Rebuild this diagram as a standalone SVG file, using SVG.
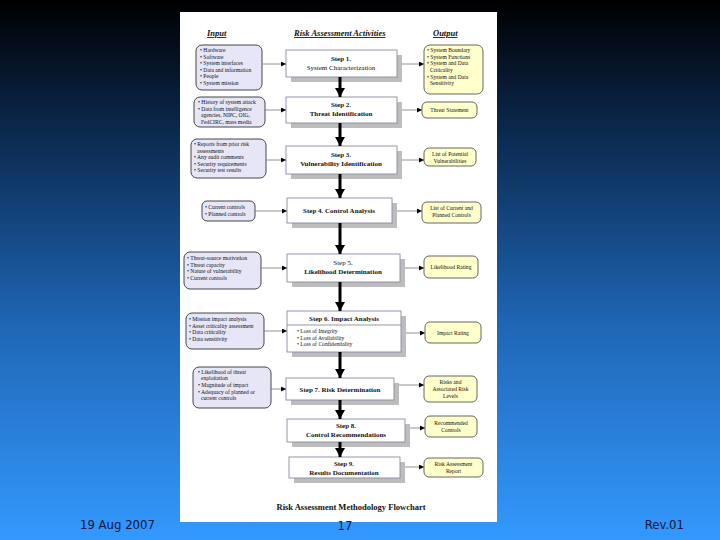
<svg xmlns="http://www.w3.org/2000/svg" width="720" height="540" viewBox="0 0 720 540">
<defs>
<linearGradient id="bg" x1="0" y1="0" x2="0" y2="1">
<stop offset="0" stop-color="#000000"/>
<stop offset="0.25" stop-color="#0b2a50"/>
<stop offset="0.6" stop-color="#1f66b5"/>
<stop offset="1" stop-color="#3399ff"/>
</linearGradient>
<marker id="big" markerUnits="userSpaceOnUse" markerWidth="10" markerHeight="10" refX="9" refY="5" orient="auto">
<path d="M0,0 L9,5 L0,10 z" fill="#000"/>
</marker>
<marker id="small" markerUnits="userSpaceOnUse" markerWidth="6" markerHeight="6" refX="5" refY="2.5" orient="auto">
<path d="M0,0 L5,2.5 L0,5 z" fill="#000"/>
</marker>
</defs>
<style>
.in{fill:#e6e6f7;stroke:#333;stroke-width:0.9}
.out{fill:#ffffcc;stroke:#555;stroke-width:0.9}
.st{fill:#fff;stroke:#8a8aa0;stroke-width:0.9}
.sh{fill:#bdbdbd}
.t{font-family:"Liberation Serif",serif;font-size:5.6px;fill:#111}
.s{font-family:"Liberation Serif",serif;font-size:7px;fill:#111;text-anchor:middle}
.b{font-weight:bold}
.o{font-family:"Liberation Serif",serif;font-size:5.6px;fill:#111;text-anchor:middle}
.h{font-family:"Liberation Serif",serif;font-size:8.5px;font-weight:bold;font-style:italic;fill:#111;text-decoration:underline}
.v{stroke:#000;stroke-width:3;fill:none}
.hz{stroke:#777;stroke-width:0.8;fill:none}
.f{font-family:"DejaVu Sans Condensed","DejaVu Sans",sans-serif;font-size:13px;fill:#14143a}
</style>
<rect x="0" y="0" width="720" height="540" fill="url(#bg)"/>
<rect x="180" y="12" width="317" height="510" fill="#ffffff"/>

<g id="headers">
<text class="h" x="207" y="36">Input</text>
<text class="h" x="294" y="36">Risk Assessment Activities</text>
<text class="h" x="433" y="36">Output</text>
</g>

<g id="input1"><rect class="in" x="196" y="45" width="66" height="45" rx="6"/>
<text class="t" x="200" y="52">• Hardware</text><text class="t" x="200" y="58.5">• Software</text><text class="t" x="200" y="65">• System interfaces</text><text class="t" x="200" y="71.5">• Data and information</text><text class="t" x="200" y="78">• People</text><text class="t" x="200" y="84.5">• System mission</text></g>
<g id="input2"><rect class="in" x="194" y="97" width="71" height="30" rx="6"/>
<text class="t" x="198" y="104">• History of system attack</text><text class="t" x="198" y="110.5">• Data from intelligence</text><text class="t" x="201" y="117">agencies, NIPC, OIG,</text><text class="t" x="201" y="123.5">FedCIRC, mass media</text></g>
<g id="input3"><rect class="in" x="191" y="139" width="75" height="39" rx="6"/>
<text class="t" x="194" y="146">• Reports from prior risk</text><text class="t" x="197" y="152.5">assessments</text><text class="t" x="194" y="159">• Any audit comments</text><text class="t" x="194" y="165.5">• Security requirements</text><text class="t" x="194" y="172">• Security test results</text></g>
<g id="input4"><rect class="in" x="202" y="201" width="53" height="20" rx="5"/>
<text class="t" x="205" y="209">• Current controls</text><text class="t" x="205" y="215.5">• Planned controls</text></g>
<g id="input5"><rect class="in" x="184" y="252" width="77" height="37" rx="6"/>
<text class="t" x="187" y="260">• Threat-source motivation</text><text class="t" x="187" y="266.5">• Threat capacity</text><text class="t" x="187" y="273">• Nature of vulnerability</text><text class="t" x="187" y="279.5">• Current controls</text></g>
<g id="input6"><rect class="in" x="186" y="313" width="78" height="36" rx="6"/>
<text class="t" x="189" y="321">• Mission impact analysis</text><text class="t" x="189" y="327.5">• Asset criticality assessment</text><text class="t" x="189" y="334">• Data criticality</text><text class="t" x="189" y="340.5">• Data sensitivity</text></g>
<g id="input7"><rect class="in" x="193" y="367" width="78" height="41" rx="6"/>
<text class="t" x="198" y="374">• Likelihood of threat</text><text class="t" x="201" y="380">exploitation</text><text class="t" x="198" y="387">• Magnitude of impact</text><text class="t" x="198" y="394">• Adequacy of planned or</text><text class="t" x="201" y="400">current controls</text></g>

<g id="step1"><rect class="sh" x="291" y="55" width="111" height="27"/><rect class="st" x="286" y="50" width="111" height="27"/>
<text class="s b" x="341" y="61">Step 1.</text><text class="s" x="341" y="69.5">System Characterization</text></g>
<g id="step2"><rect class="sh" x="291" y="102" width="111" height="26"/><rect class="st" x="286" y="97" width="111" height="26"/>
<text class="s b" x="341" y="107">Step 2.</text><text class="s b" x="341" y="116">Threat Identification</text></g>
<g id="step3"><rect class="sh" x="291" y="151" width="111" height="28"/><rect class="st" x="286" y="146" width="111" height="28"/>
<text class="s b" x="341" y="157">Step 3.</text><text class="s b" x="341" y="166">Vulnerability Identification</text></g>
<g id="step4"><rect class="sh" x="292" y="203" width="105" height="25"/><rect class="st" x="287" y="198" width="105" height="25"/>
<text class="s b" x="339" y="213">Step 4.  Control Analysis</text></g>
<g id="step5"><rect class="sh" x="292" y="259" width="113" height="28"/><rect class="st" x="287" y="254" width="113" height="28"/>
<text class="s" x="343" y="265">Step 5.</text><text class="s b" x="343" y="274">Likelihood Determination</text></g>
<g id="step6"><rect class="sh" x="292" y="316" width="114" height="41"/><rect class="st" x="287" y="311" width="114" height="41"/>
<line x1="287" y1="325" x2="401" y2="325" stroke="#8a8aa0" stroke-width="0.9"/>
<text class="s b" x="344" y="321">Step 6.  Impact Analysis</text>
<text class="t" x="297" y="333">• Loss of Integrity</text><text class="t" x="297" y="339.5">• Loss of Availability</text><text class="t" x="297" y="346">• Loss of Confidentiality</text></g>
<g id="step7"><rect class="sh" x="291" y="383" width="108" height="22"/><rect class="st" x="286" y="378" width="108" height="22"/>
<text class="s b" x="340" y="391.5">Step 7.  Risk Determination</text></g>
<g id="step8"><rect class="sh" x="292" y="424" width="118" height="23"/><rect class="st" x="287" y="419" width="118" height="23"/>
<text class="s b" x="346" y="428">Step 8.</text><text class="s b" x="346" y="437">Control Recommendations</text></g>
<g id="step9"><rect class="sh" x="294" y="462" width="111" height="21"/><rect class="st" x="289" y="457" width="111" height="21"/>
<text class="s b" x="344" y="466">Step 9.</text><text class="s b" x="344" y="474.5">Results Documentation</text></g>

<g id="output1"><rect class="out" x="424" y="45" width="59" height="49" rx="6"/>
<text class="t" x="427" y="52">• System Boundary</text><text class="t" x="427" y="58.5">• System Functions</text><text class="t" x="427" y="65">• System and Data</text><text class="t" x="430" y="71.5">Criticality</text><text class="t" x="427" y="78.5">• System and Data</text><text class="t" x="430" y="85">Sensitivity</text></g>
<g id="output2"><rect class="out" x="422" y="102" width="55" height="16" rx="5"/><text class="o" x="449.5" y="112">Threat Statement</text></g>
<g id="output3"><rect class="out" x="424" y="148" width="52" height="18" rx="5"/><text class="o" x="450" y="156">List of Potential</text><text class="o" x="450" y="162.5">Vulnerabilities</text></g>
<g id="output4"><rect class="out" x="422" y="202" width="59" height="21" rx="5"/><text class="o" x="451.5" y="210">List of Current and</text><text class="o" x="451.5" y="217">Planned Controls</text></g>
<g id="output5"><rect class="out" x="424" y="256" width="54" height="22" rx="5"/><text class="o" x="451" y="269">Likelihood Rating</text></g>
<g id="output6"><rect class="out" x="425" y="322" width="56" height="21" rx="5"/><text class="o" x="453" y="334.5">Impact Rating</text></g>
<g id="output7"><rect class="out" x="424" y="376" width="53" height="26" rx="5"/><text class="o" x="450.5" y="383.5">Risks and</text><text class="o" x="450.5" y="390.5">Associated Risk</text><text class="o" x="450.5" y="397.5">Levels</text></g>
<g id="output8"><rect class="out" x="425" y="416" width="52" height="21" rx="5"/><text class="o" x="451" y="425">Recommended</text><text class="o" x="451" y="432">Controls</text></g>
<g id="output9"><rect class="out" x="424" y="458" width="59" height="19" rx="5"/><text class="o" x="453.5" y="466">Risk Assessment</text><text class="o" x="453.5" y="473">Report</text></g>

<g id="connectors">
<line class="v" x1="340" y1="77" x2="340" y2="97" marker-end="url(#big)"/>
<line class="v" x1="340" y1="123" x2="340" y2="146" marker-end="url(#big)"/>
<line class="v" x1="340" y1="174" x2="340" y2="198" marker-end="url(#big)"/>
<line class="v" x1="340" y1="223" x2="340" y2="254" marker-end="url(#big)"/>
<line class="v" x1="340" y1="282" x2="340" y2="311" marker-end="url(#big)"/>
<line class="v" x1="340" y1="352" x2="340" y2="378" marker-end="url(#big)"/>
<line class="v" x1="340" y1="400" x2="340" y2="419" marker-end="url(#big)"/>
<line class="v" x1="340" y1="442" x2="340" y2="457" marker-end="url(#big)"/>
<line class="hz" x1="262" y1="64" x2="286" y2="64" marker-end="url(#small)"/>
<line class="hz" x1="265" y1="110" x2="286" y2="110" marker-end="url(#small)"/>
<line class="hz" x1="266" y1="160" x2="286" y2="160" marker-end="url(#small)"/>
<line class="hz" x1="255" y1="211" x2="287" y2="211" marker-end="url(#small)"/>
<line class="hz" x1="261" y1="268" x2="287" y2="268" marker-end="url(#small)"/>
<line class="hz" x1="264" y1="331" x2="287" y2="331" marker-end="url(#small)"/>
<line class="hz" x1="271" y1="389" x2="286" y2="389" marker-end="url(#small)"/>
<line class="hz" x1="402" y1="64" x2="424" y2="64" stroke="#e0e0e0" marker-end="url(#small)"/>
<line class="hz" x1="402" y1="110" x2="422" y2="110" marker-end="url(#small)"/>
<line class="hz" x1="402" y1="160" x2="424" y2="160" marker-end="url(#small)"/>
<line class="hz" x1="397" y1="211" x2="422" y2="211" marker-end="url(#small)"/>
<line class="hz" x1="405" y1="268" x2="424" y2="268" marker-end="url(#small)"/>
<line class="hz" x1="406" y1="333" x2="425" y2="333" marker-end="url(#small)"/>
<line class="hz" x1="399" y1="385" x2="424" y2="385" marker-end="url(#small)"/>
<line class="hz" x1="410" y1="428" x2="425" y2="428" marker-end="url(#small)"/>
<line class="hz" x1="405" y1="467" x2="424" y2="467" marker-end="url(#small)"/>
</g>

<text x="351" y="510" font-family="Liberation Serif, serif" font-size="8.5" font-weight="bold" fill="#111" text-anchor="middle">Risk Assessment Methodology Flowchart</text>

<g id="footer">
<text class="f" x="80" y="529">19 Aug 2007</text>
<text class="f" x="345" y="530" text-anchor="middle">17</text>
<text class="f" x="684" y="529" text-anchor="end">Rev.01</text>
</g>
</svg>
